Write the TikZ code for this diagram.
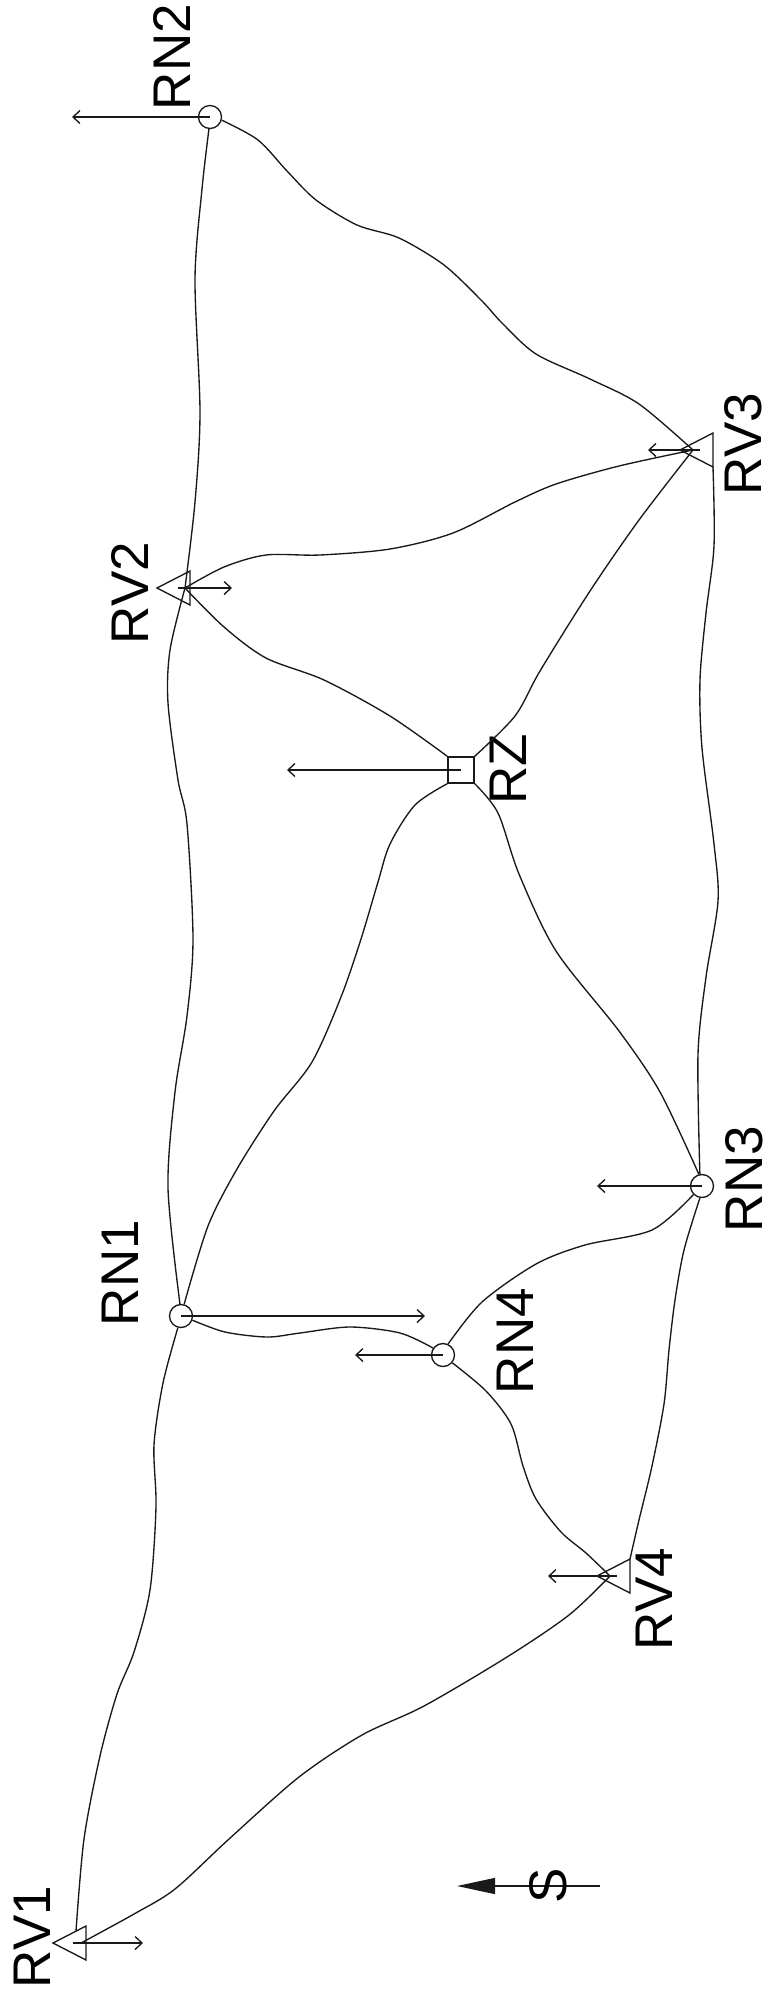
\documentclass[tikz,border=0pt]{standalone}
\usepackage{fontspec}
\setmainfont{Liberation Sans}
\usetikzlibrary{arrows.meta}
\begin{document}
\begin{tikzpicture}[x=1pt,y=-1pt,
  edge/.style={line width=1.35pt, draw=black!90},
  sym/.style={line width=1.35pt, draw=black!90},
  arr/.style={line width=1.35pt, draw=black!90, -{Straight Barb[length=7pt,width=13pt]}},
  circ/.style={circle, draw=black!90, line width=1.35pt, minimum size=23pt, inner sep=0pt},
  sq/.style={rectangle, draw=black!90, line width=1.35pt, minimum size=26pt, inner sep=0pt},
  lab/.style={rotate=90, inner sep=0pt, font=\fontsize{53}{53}\selectfont},
  tri/.pic={\draw[sym] (0,0) coordinate (-apex) -- (33,-17) coordinate (-top) -- (33,17) coordinate (-bot) -- cycle;
    \coordinate (-c) at (13,0); \coordinate (-m) at (28,0); \coordinate (-s) at (23,-12);}
]
\useasboundingbox (0,0) rectangle (772,2000);

% vertices
\node[circ] (RN2) at (210,117) {};
\node[circ] (RN1) at (181,1316) {};
\node[circ] (RN4) at (443,1355) {};
\node[circ] (RN3) at (702,1186) {};
\node[sq] (RZ) at (461,770) {};
\pic (RV2) at (157,588) {tri};
\pic (RV3) at (680,450) {tri};
\pic (RV4) at (597,1576) {tri};
\pic (RV1) at (53,1943) {tri};

% labels
\node[lab] (lRN2) at (172,57) {RN2};
\node[lab] (lRV2) at (130,593) {RV2};
\node[lab] (lRV3) at (743,444) {RV3};
\node[lab] (lRZ) at (508,769) {RZ};
\node[lab] (lRN3) at (744,1179) {RN3};
\node[lab] (lRN1) at (120,1273) {RN1};
\node[lab] (lRN4) at (515,1341) {RN4};
\node[lab] (lRV4) at (654,1599) {RV4};
\node[lab] (lRV1) at (32,1937) {RV1};

% edges
\draw[edge] plot[smooth] coordinates {(RN2.-15) (258,140) (287,171) (316,200) (357,225) (399,238) (444,265) (482,301) (502,323) (536,354) (590,379) (639,404) (RV3-c)};
\draw[edge] plot[smooth] coordinates {(RN2.-95) (202,189) (195,279) (200,412) (195,502) (RV2-m)};
\draw[edge] plot[smooth] coordinates {(RV2-m) (224,567) (266,555) (320,555) (390,549) (453,533) (515,502) (556,484) (619,466) (RV3-c)};
\draw[edge] plot[smooth] coordinates {(RV2-m) (224,627) (266,658) (324,680) (390,716) (RZ.north west)};
\draw[edge] plot[smooth] coordinates {(RV3-c) (639,520) (590,591) (540,671) (515,716) (RZ.north east)};
\draw[edge] plot[smooth] coordinates {(RV3-bot) (714,546) (706,613) (700,680) (702,748) (714,844) (718,901) (706,977) (698,1054) (RN3.100)};
\draw[edge] plot[smooth] coordinates {(RV2-m) (170,650) (168,703) (178,780) (187,824) (193,939) (187,1016) (175,1092) (168,1188) (RN1.95)};
\draw[edge] plot[smooth] coordinates {(RZ.south west) (415,805) (390,844) (378,882) (361,939) (341,997) (312,1062) (274,1111) (237,1169) (208,1226) (RN1.75)};
\draw[edge] plot[smooth] coordinates {(RZ.south east) (498,813) (519,874) (556,951) (619,1031) (660,1092) (RN3.105)};
\draw[edge] plot[smooth] coordinates {(RN3.-135) (652,1230) (585,1245) (536,1264) (482,1302) (RN4.65)};
\draw[edge] plot[smooth] coordinates {(RN1.-20) (225,1332) (267,1337) (300,1333) (350,1327) (400,1333) (RN4.145)};
\draw[edge] plot[smooth] coordinates {(RN4.-40) (486,1391) (511,1424) (523,1466) (536,1499) (561,1532) (586,1553) (RV4-c)};
\draw[edge] plot[smooth] coordinates {(RN3.-100) (684,1250) (675,1300) (669,1350) (664,1404) (652,1466) (639,1520) (RV4-top)};
\draw[edge] plot[smooth] coordinates {(RN1.-105) (163,1383) (154,1445) (156,1507) (150,1590) (134,1652) (117,1694) (100,1756) (84,1839) (RV1-s)};
\draw[edge] plot[smooth] coordinates {(RV4-c) (569,1615) (507,1657) (424,1706) (362,1735) (299,1777) (229,1839) (175,1889) (134,1914) (RV1-m)};

% load arrows
\draw[arr] (RN2.center) -- ++(-138,0);
\draw[arr] ([xshift=21pt]RV2-apex) -- ++(54,0);
\draw[arr] ([xshift=20pt]RV3-apex) -- ++(-52,0);
\draw[arr] (RZ.center) -- ++(-174,0);
\draw[arr] (RN3.center) -- ++(-105,0);
\draw[arr] (RN1.center) -- ++(244,0);
\draw[arr] (RN4.center) -- ++(-88,0);
\draw[arr] ([xshift=20pt]RV4-apex) -- ++(-69,0);
\draw[arr] ([xshift=20pt]RV1-apex) -- ++(70,0);

% S arrow
\coordinate (Sa) at (600,1886);
\coordinate (Sb) at (457,1886);
\draw[line width=1.4pt, draw=black!90, -{Triangle[length=38pt,width=16pt]}] (Sa) -- (Sb);
\node[lab] (lS) at (548,1886) {S};
\end{tikzpicture}
\end{document}
